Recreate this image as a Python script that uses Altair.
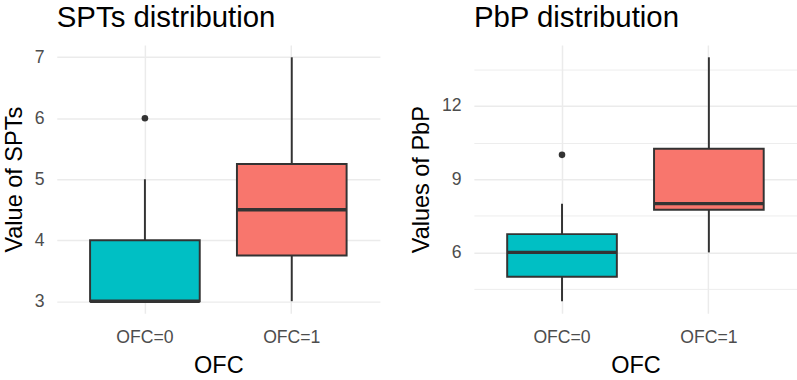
import altair as alt
import pandas as pd

# Groups and fill colours
groups = ["OFC=0", "OFC=1"]
box_colors = ["#00BFC4", "#F8766D"]

# SPTs box statistics per group
spts_low = [3, 3]
spts_q1 = [3, 3.75]
spts_median = [3, 4.5]
spts_q3 = [4, 5.25]
spts_high = [5, 7]
spts_outlier_group = ["OFC=0"]
spts_outliers = [6]
spts_major = [3, 4, 5, 6, 7]
spts_minor = [3.5, 4.5, 5.5, 6.5]

# PbP box statistics per group
pbp_low = [4, 6]
pbp_q1 = [5, 7.75]
pbp_median = [6, 8]
pbp_q3 = [6.75, 10.25]
pbp_high = [8, 14]
pbp_outlier_group = ["OFC=0"]
pbp_outliers = [10]
pbp_major = [6, 9, 12]
pbp_minor = [4.5, 7.5, 10.5, 13.5]

INK = "#333333"
FONT = "Liberation Sans"


def panel(title, ytitle, low, q1, med, q3, high, out_grp, out_vals,
          major, minor, ydomain, width, xrange):
    stats = pd.DataFrame({"OFC": groups, "low": low, "q1": q1,
                          "median": med, "q3": q3, "high": high})
    outs = pd.DataFrame({"OFC": out_grp, "value": out_vals})

    major_list = ",".join(str(v) for v in major)
    is_major = f"indexof([{major_list}], datum.value) >= 0"
    xscale = alt.Scale(domain=groups, paddingInner=0.2533,
                       paddingOuter=0.2267, range=xrange)
    yscale = alt.Scale(domain=ydomain, nice=False, zero=False)
    xaxis = alt.Axis(title="OFC", labelAngle=0, grid=True, bandPosition=0.5,
                     gridWidth=1.5, labelPadding=16, titlePadding=7,
                     titleX=xrange[1] / 2)
    yaxis = alt.Axis(
        title=ytitle,
        values=sorted(major + minor),
        format="~g",
        labelExpr=f"{is_major} ? datum.label : ''",
        gridWidth={"condition": {"test": is_major, "value": 1.5}, "value": 0.9},
        labelPadding=13, titlePadding=8,
    )

    base = alt.Chart(stats).encode(x=alt.X("OFC:N", scale=xscale, axis=xaxis))
    whisker = base.mark_rule(color=INK, strokeWidth=2).encode(
        y=alt.Y("low:Q", scale=yscale, axis=yaxis), y2="high:Q")
    box = base.mark_bar(stroke=INK, strokeWidth=2, opacity=1).encode(
        y="q1:Q", y2="q3:Q",
        color=alt.Color("OFC:N", scale=alt.Scale(domain=groups, range=box_colors),
                        legend=None))
    median = base.mark_tick(color=INK, thickness=3.5, size=112, opacity=1).encode(
        y="median:Q")
    points = alt.Chart(outs).mark_circle(color=INK, size=45, opacity=1).encode(
        x="OFC:N", y="value:Q")

    return alt.layer(whisker, box, median, points).properties(
        width=width, height=274,
        title=alt.Title(title, anchor="start", frame="group", offset=12))


left = panel("SPTs distribution", "Value of SPTs", spts_low, spts_q1, spts_median,
             spts_q3, spts_high, spts_outlier_group, spts_outliers,
             spts_major, spts_minor, [2.8, 7.2], 330, [0, 330])
right = panel("PbP distribution", "Values of PbP", pbp_low, pbp_q1, pbp_median,
              pbp_q3, pbp_high, pbp_outlier_group, pbp_outliers,
              pbp_major, pbp_minor, [3.5, 14.5], 316, [0, 330])

chart = alt.hconcat(left, right, spacing=30).properties(
    padding={"left": 2, "top": 0, "right": 0, "bottom": 0},
    background="white",
).configure_view(stroke=None).configure_axis(
    domain=False, ticks=False, gridColor="#EBEBEB",
    labelFont=FONT, labelFontSize=18, labelColor="#4D4D4D",
    titleFont=FONT, titleFontSize=24, titleFontWeight="normal", titleColor="black",
).configure_title(
    font=FONT, fontSize=30, fontWeight="normal", color="black",
)

chart.save("out.html", embed_options={"renderer": "svg", "actions": False})
